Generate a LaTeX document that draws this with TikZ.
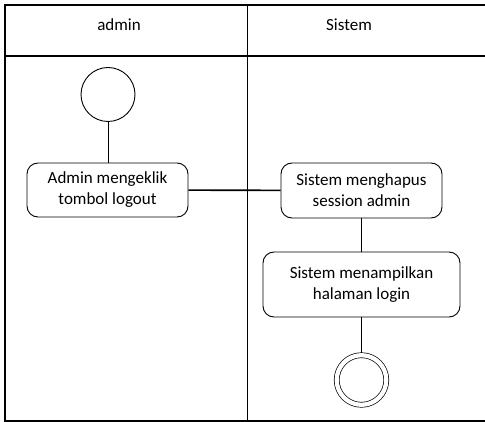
\documentclass[tikz,border=0pt]{standalone}
\usepackage{fontspec}
\setmainfont{Carlito}
\begin{document}
\begin{tikzpicture}[x=1pt,y=-1pt,
  every node/.style={font=\fontsize{17}{21}\selectfont},
  frame/.style={line width=1.8pt},
  lane/.style={line width=0.9pt},
  flow/.style={line width=0.9pt},
  crossflow/.style={line width=1.6pt},
  action/.style={draw,line width=0.9pt,rounded corners=11pt,align=center,inner sep=0pt},
  startnode/.style={draw,circle,line width=0.9pt,minimum size=54pt,inner sep=0pt,outer sep=0pt},
  endring/.style={draw,circle,line width=0.7pt,minimum size=49.6pt,inner sep=0pt,
    double,double distance=4.3pt,outer sep=2.5pt}]
\useasboundingbox (0,0) rectangle (485,422);
% swimlane frame
\draw[frame] (485,5) -- (5,5) -- (5,421) -- (485,421);
\draw[frame] (5,56) -- (485,56);
\draw[lane] (247,5) -- (247,421);
\node (laneA) at (119,25) {admin};
\node (laneB) at (349,25) {Sistem};
% activity nodes
\node[startnode] (start) at (108,94.5) {};
\node[action,minimum width=161pt,minimum height=54pt] (click) at (107.5,190) {Admin mengeklik\\tombol logout};
\node[action,minimum width=161pt,minimum height=55pt] (hapus) at (361.5,190.5) {Sistem menghapus\\session admin};
\node[action,minimum width=197pt,minimum height=65pt] (tampil) at (361.5,284.5) {Sistem menampilkan\\halaman login};
\node[endring] (finish) at (361.5,380) {};
% flows
\draw[flow] (start) -- (start |- click.north);
\draw[crossflow] (click) -- (hapus);
\draw[flow] (hapus) -- (tampil);
\draw[flow] (tampil) -- (finish);
\end{tikzpicture}
\end{document}
